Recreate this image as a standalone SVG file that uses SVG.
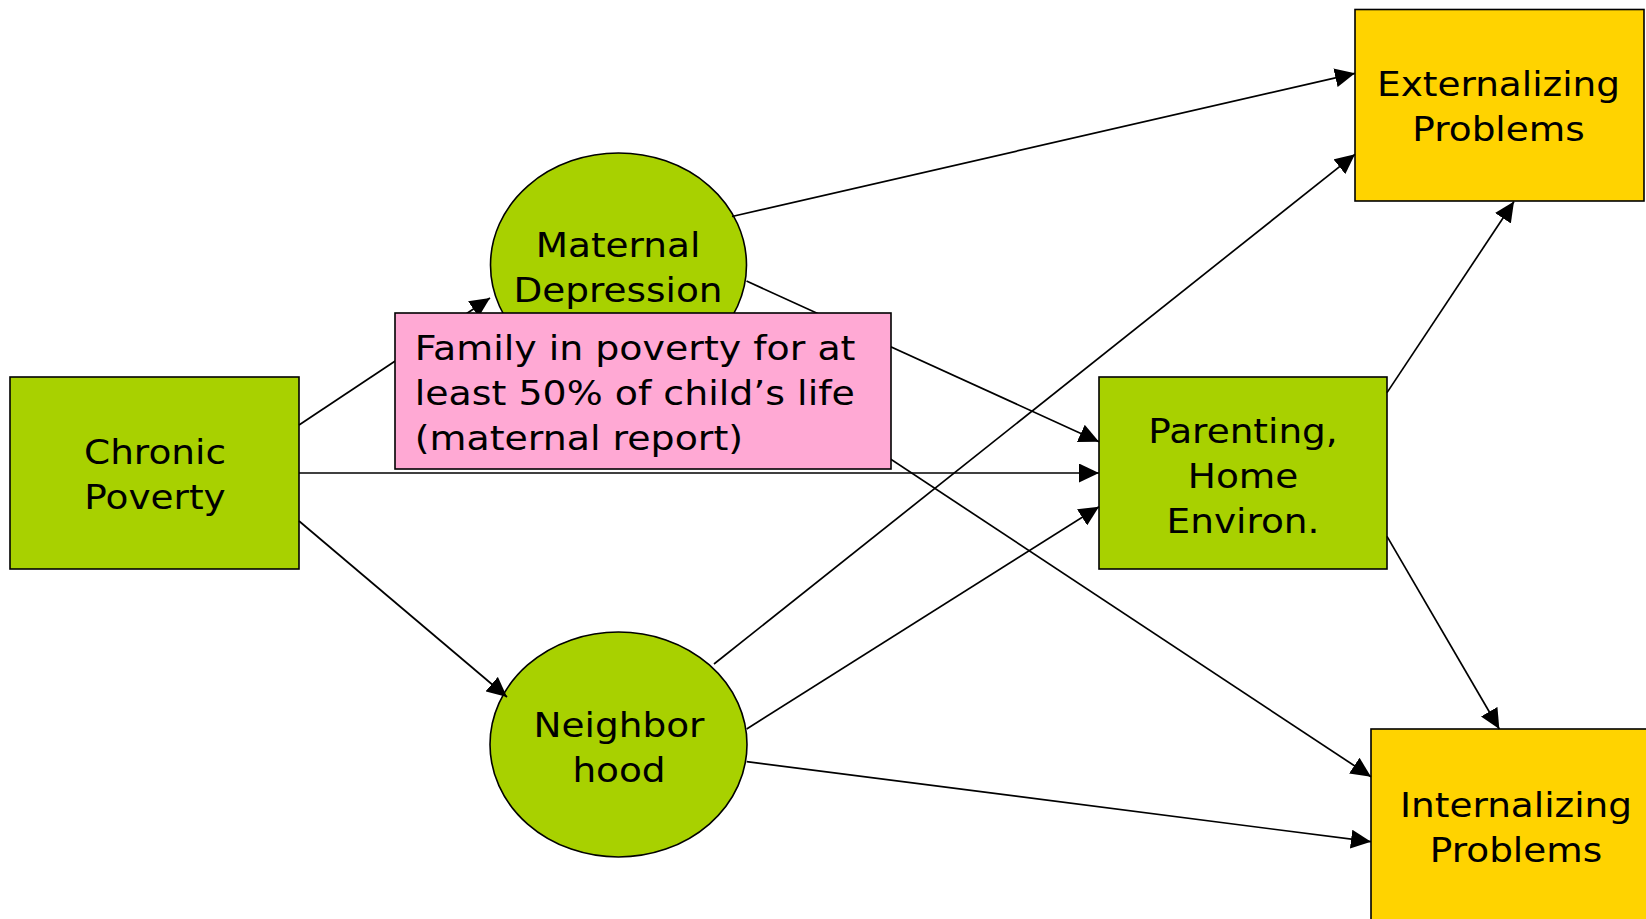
<svg xmlns="http://www.w3.org/2000/svg" width="1646" height="919" viewBox="0 0 1646 919">
<style>
.green{fill:#A8D100;stroke:#000;stroke-width:1.6}
.yellow{fill:#FFD300;stroke:#000;stroke-width:1.6}
.pink{fill:#FFA9D4;stroke:#000;stroke-width:1.6}
.lbl{font-family:"DejaVu Sans","Liberation Sans",sans-serif;font-size:34px;fill:#000}
.c{text-anchor:middle}
.edge{fill:none;stroke:#000;stroke-width:1.7;marker-end:url(#arr)}
</style>
<defs>
<marker id="arr" viewBox="0 0 20 19" refX="20" refY="9.5" markerWidth="20" markerHeight="19" markerUnits="userSpaceOnUse" orient="auto">
<path d="M0,0 L20,9.5 L0,19 z" fill="#000"/>
</marker>
</defs>
<rect width="1646" height="919" fill="#fff"/>
<g id="chronic-poverty">
<rect class="green" x="10" y="377" width="289" height="192"/>
<text class="lbl c" transform="matrix(1.1 0 0 1 155 0)"><tspan x="0" y="464">Chronic</tspan><tspan x="0" y="509">Poverty</tspan></text>
</g>
<g id="maternal-depression">
<ellipse class="green" cx="618.5" cy="265" rx="128" ry="112"/>
<text class="lbl c" transform="matrix(1.1 0 0 1 618 0)"><tspan x="0" y="257">Maternal</tspan><tspan x="0" y="302">Depression</tspan></text>
</g>
<g id="neighborhood">
<ellipse class="green" cx="618.5" cy="744.5" rx="128.5" ry="112.5"/>
<text class="lbl c" transform="matrix(1.1 0 0 1 619 0)"><tspan x="0" y="737">Neighbor</tspan><tspan x="0" y="782">hood</tspan></text>
</g>
<g id="parenting">
<rect class="green" x="1099" y="377" width="288" height="192"/>
<text class="lbl c" transform="matrix(1.1 0 0 1 1243 0)"><tspan x="0" y="443">Parenting,</tspan><tspan x="0" y="488">Home</tspan><tspan x="0" y="533">Environ.</tspan></text>
</g>
<g id="externalizing">
<rect class="yellow" x="1355" y="9.5" width="289" height="191.5"/>
<text class="lbl c" transform="matrix(1.1 0 0 1 1498.5 0)"><tspan x="0" y="96">Externalizing</tspan><tspan x="0" y="141.5">Problems</tspan></text>
</g>
<g id="internalizing">
<rect class="yellow" x="1371" y="729" width="290" height="200"/>
<text class="lbl c" transform="matrix(1.1 0 0 1 1516 0)"><tspan x="0" y="817">Internalizing</tspan><tspan x="0" y="862">Problems</tspan></text>
</g>
<g id="connectors">
<path class="edge" d="M299,425 L490,298"/>
<path class="edge" d="M299,473 L1099,473"/>
<path class="edge" d="M299,521 L507,697"/>
<path class="edge" d="M732,216.5 L1355,73.3"/>
<path class="edge" d="M746.5,281 L1099,441.7"/>
<path class="edge" d="M712,341 L1371,776.7"/>
<path class="edge" d="M714,664 L1355,154.3"/>
<path class="edge" d="M746.7,729 L1099,506.7"/>
<path class="edge" d="M746.7,761.7 L1371,841.7"/>
<path class="edge" d="M1387,392.6 L1514,201.5"/>
<path class="edge" d="M1387,536.4 L1499.3,729"/>
</g>
<g id="note">
<rect class="pink" x="395" y="313" width="496" height="156"/>
<text class="lbl" transform="matrix(1.115 0 0 1 414.7 0)"><tspan x="0" y="360">Family in poverty for at</tspan><tspan x="0" y="405">least 50% of child’s life</tspan><tspan x="0" y="450">(maternal report)</tspan></text>
</g>
</svg>
